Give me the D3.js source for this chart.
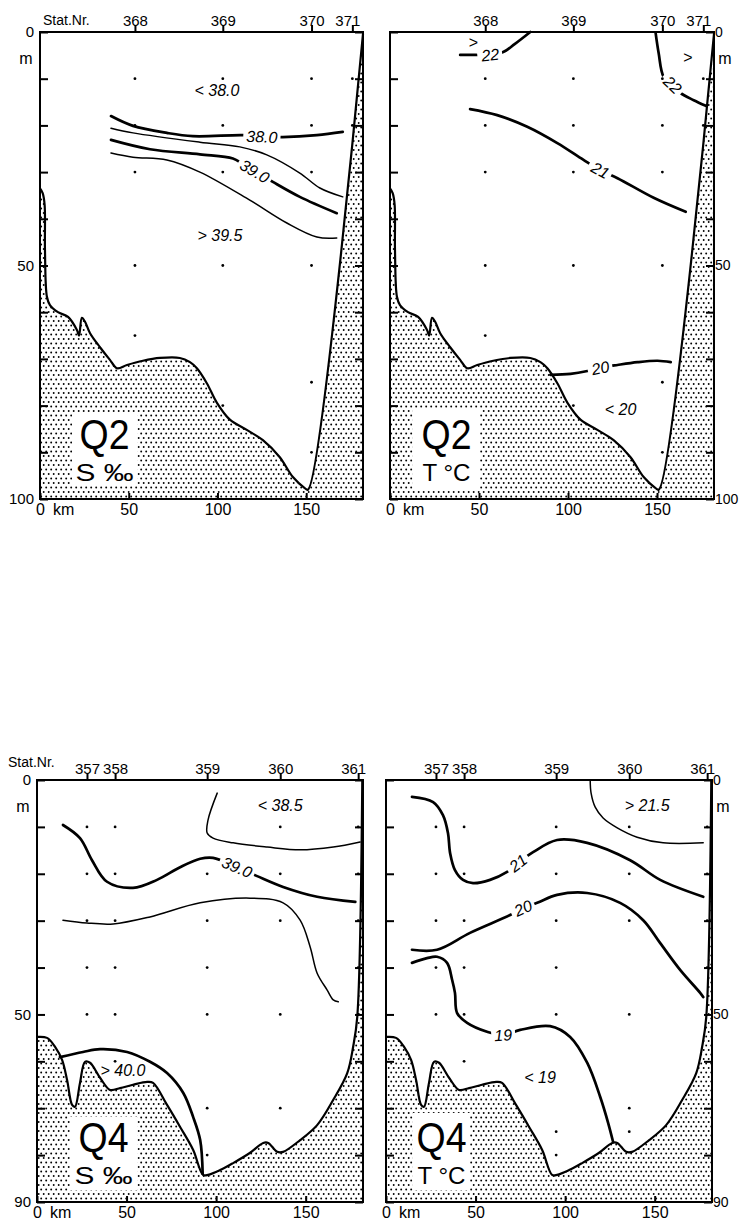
<!DOCTYPE html>
<html>
<head>
<meta charset="utf-8">
<script src="https://cdn.jsdelivr.net/npm/d3@7"></script>
<style>
body { margin: 0; background: #fff; }
svg { display: block; font-family: "Liberation Sans", Arial, sans-serif; }
</style>
</head>
<body>
<div id="app"></div>
<script>
// Stations along the section (km from start)
let stationsQ2 = ["368", "369", "370", "371"]
let stationKmQ2 = [53.5, 103, 153, 176]
let stationsQ4 = ["357", "358", "359", "360", "361"]
let stationKmQ4 = [27.9, 43.6, 95, 135.8, 179.3]

let kmTicks = [0, 50, 100, 150]

// sample depths [station, depth m]
let samplesQ2 = [
  ["368", 10], ["368", 20], ["368", 30], ["368", 50], ["368", 65],
  ["369", 10], ["369", 20], ["369", 30], ["369", 50], ["369", 80],
  ["370", 10], ["370", 20], ["370", 30], ["370", 50], ["370", 75], ["370", 90],
  ["371", 10], ["371", 20]
]
let samplesQ4S = [
  ["357", 10], ["357", 20], ["357", 30], ["357", 40], ["357", 50],
  ["358", 10], ["358", 20], ["358", 30], ["358", 40], ["358", 50], ["358", 60],
  ["359", 20], ["359", 30], ["359", 40], ["359", 50], ["359", 70], ["359", 80],
  ["360", 10], ["360", 20], ["360", 30], ["360", 50], ["360", 70],
  ["361", 10], ["361", 20], ["361", 30], ["361", 40], ["361", 50]
]
let samplesQ4T = [
  ["357", 10], ["357", 20], ["357", 30], ["357", 40], ["357", 50],
  ["358", 10], ["358", 20], ["358", 30], ["358", 40], ["358", 50], ["358", 60],
  ["359", 10], ["359", 20], ["359", 30], ["359", 40], ["359", 50], ["359", 75], ["359", 80],
  ["360", 10], ["360", 20], ["360", 30], ["360", 50], ["360", 70], ["360", 75],
  ["361", 10], ["361", 20], ["361", 30], ["361", 40]
]

// sea floor profiles [km, depth m]
let bottomQ2 = [
  [0, 33.5], [1.5, 34.5], [2.6, 37], [2.8, 46.7], [3.9, 56.7], [5.6, 58.5], [10.1, 60],
  [15.8, 61], [20.8, 63.8], [22, 65], [23.6, 61.2], [25.3, 62], [28.2, 64.5],
  [33.8, 67.5], [39.4, 70.2], [43.4, 72], [49, 71.3], [58, 70.4], [67.6, 69.8],
  [78.8, 69.8], [84.5, 70.7], [88.4, 72], [94, 75.2], [99.7, 79.4], [107, 83],
  [116.5, 85.2], [125.6, 87.4], [135, 91], [142.5, 95.3], [149, 97.6], [151, 98],
  [182, 0.4]
]
let bottomQ4 = [
  [0, 54.8], [5.6, 55], [10.1, 56.9], [14, 59.7], [16.8, 64], [19.6, 69.3], [21.2, 69.7],
  [24, 64.6], [26.8, 60.1], [29.6, 60.3], [35.2, 63.5], [40.8, 66.1], [46.4, 65.7],
  [53.6, 65], [61.5, 64.4], [64.8, 64.6], [72.6, 69.3], [79.9, 74], [87.2, 78.9],
  [92.7, 84.2], [95.5, 84.2], [102.2, 83.2], [109.5, 81.7], [119, 79.5], [126.3, 77.4],
  [129.1, 77.4], [134.1, 79.3], [137.4, 79.3], [146.9, 76.8], [156.4, 73.6],
  [165.4, 68.2], [173.2, 62.5], [176.5, 56.9], [178.8, 50.5], [181.6, 0]
]

// isolines: level, index of the point carrying the label, points [km, depth m]
let contoursQ2S = [
  {level: 38.0, labelAt: 5, points: [[40, 18], [52.4, 20.1], [71.5, 21.6], [86.1, 22.3], [114.3, 22.1], [125, 22.4], [136.8, 22.5], [156, 22.1], [170.6, 21.4]]},
  {level: 38.5, points: [[40, 20.6], [52.4, 21.6], [90.1, 23.6], [112.6, 24.6], [127.8, 26.3], [146.4, 30.2], [157.7, 33.4], [170.6, 35.3]]},
  {level: 39.0, labelAt: 5, points: [[40, 23.1], [62, 25.1], [90.1, 26.2], [108.7, 27.1], [114, 28.2], [121, 29.8], [131.2, 32.1], [146.4, 35.3], [167.2, 38.8]]},
  {level: 39.5, points: [[40, 25.9], [52.4, 26.8], [71.5, 27.4], [90.1, 30], [118.2, 36], [139.1, 40.9], [156, 43.9], [167.2, 44.1]]}
]
let contoursQ2T = [
  {level: 22, labelAt: 2, points: [[39.4, 4.9], [47.9, 4.9], [56.3, 4.9], [63.6, 4.3], [70, 2.6], [78.8, 0]]},
  {level: 22, labelAt: 3, points: [[149.2, 0.2], [150.9, 4.5], [153.7, 9.6], [158.8, 11.3], [163.3, 13.1], [170.6, 14.6], [177.4, 15.8]]},
  {level: 21, labelAt: 5, points: [[45, 16.5], [60.2, 17.8], [77.1, 20.3], [94, 23.8], [108.7, 27.4], [118.2, 29.6], [127.8, 31.3], [148.1, 35.5], [166.1, 38.5]]},
  {level: 20, labelAt: 3, points: [[90.1, 73.4], [101.4, 73.2], [110.9, 72.6], [118.2, 71.9], [127.8, 71.3], [139.1, 70.7], [150.3, 70.4], [157.7, 70.7]]}
]
let contoursQ4S = [
  {level: 38.5, points: [[100.6, 2.8], [95.5, 8.5], [95, 11.3], [98.3, 12.4], [109.5, 13.4], [128.5, 14.3], [146.9, 14.9], [165.4, 14.3], [180.4, 13.2]]},
  {level: 39.0, labelAt: 9, points: [[14.5, 9.6], [24, 12.4], [30.7, 17.1], [39.1, 21.7], [53.6, 23], [67, 21.3], [79.9, 18.6], [91.1, 16.8], [98.3, 16.6], [111.7, 18.6], [122.9, 20.5], [137.4, 22.8], [156.4, 24.9], [177.7, 26]]},
  {level: 39.5, points: [[14.5, 29.9], [27.9, 30.5], [42.5, 30.7], [63.1, 29.2], [91.1, 26.2], [119, 25.2], [137.4, 26.2], [146.9, 29.9], [152.5, 35.6], [156.4, 41.2], [162, 44.8], [165.4, 46.9], [168.2, 47.3]]},
  {level: 40.0, points: [[12.8, 59.1], [25.7, 58], [35.2, 57.4], [50.3, 58], [63.1, 60.1], [72.6, 62.5], [81.6, 66.7], [87.2, 71.9], [91.1, 76.8], [92.5, 84]]}
]
let contoursQ4T = [
  {level: 21.5, points: [[114, 0], [114.5, 2.8], [116.8, 5.8], [121.2, 8.1], [129.1, 10.2], [140.2, 12.2], [154.7, 13.4], [177.1, 13.4]]},
  {level: 21, labelAt: 10, points: [[14.5, 3.6], [26.3, 4.7], [31.8, 7.5], [34.6, 11.3], [35.8, 15.6], [38.5, 19.2], [43, 21.3], [48.6, 22], [58.1, 21.3], [67.6, 19.6], [73.7, 17.7], [82.1, 15.4], [95.5, 12.8], [112.3, 13.4], [136.3, 17.1], [153.1, 21.3], [177.1, 24.9]]},
  {level: 20, labelAt: 4, points: [[14.5, 36.2], [28.5, 36.2], [46.9, 32.6], [69.3, 28.8], [76.5, 27.3], [84.4, 26.2], [95.5, 24.5], [112.3, 24.1], [130.7, 26.2], [143.6, 29.9], [153.1, 34.8], [164.2, 40.5], [175.4, 45.4], [177.1, 46.3]]},
  {level: 19, labelAt: 9, points: [[14.5, 39], [22.9, 38], [28.5, 37.7], [34.1, 39], [36.9, 42.6], [38.5, 45.4], [39.7, 49.7], [45.3, 51.8], [56.4, 53.7], [65.4, 54.4], [74.9, 53.3], [91.6, 52.5], [102.8, 54.8], [112.3, 60.3], [119.6, 67.6], [124, 73.1], [126.8, 77.2]]}
]

// free text in the sections [text, km, depth m]
let notesQ2S = [["< 38.0", 99.7, 12.4], ["> 39.5", 101.4, 43.5]]
let notesQ2T = [[">", 46.7, 2.1], [">", 167.2, 5.4], ["< 20", 129.5, 80.7]]
let notesQ4S = [["< 38.5", 135.8, 5.3], ["> 40.0", 48, 61.8]]
let notesQ4T = [["> 21.5", 145.8, 5.3], ["< 19", 86, 63.3]]

let svg = d3.select("#app").append("svg")
    .attr("width", 739)
    .attr("height", 1225)

// stipple for the sea floor
let pat = svg.append("defs").append("pattern")
    .attr("id", "stipple")
    .attr("width", 5)
    .attr("height", 9)
    .attr("patternUnits", "userSpaceOnUse")
pat.append("rect").attr("width", 5).attr("height", 9).attr("fill", "#fff")
pat.append("circle").attr("cx", 1.2).attr("cy", 1.5).attr("r", 0.95).attr("fill", "#000")
pat.append("circle").attr("cx", 3.7).attr("cy", 6).attr("r", 0.95).attr("fill", "#000")

let panels = [
  {cruise: "Q2", param: "S ‰", fmt: d3.format(".1f"), x0: 40, x1: 363, y0: 32, y1: 499, maxDepth: 100, side: "left",
   stat: [43, 25], stations: stationsQ2, stationKm: stationKmQ2, bottom: bottomQ2,
   contours: contoursQ2S, notes: notesQ2S, samples: samplesQ2, box: [32, -86, 65, 72]},
  {cruise: "Q2", param: "T °C", fmt: d3.format("d"), x0: 390, x1: 714, y0: 32, y1: 499, maxDepth: 100, side: "right",
   stat: null, stations: stationsQ2, stationKm: stationKmQ2, bottom: bottomQ2,
   contours: contoursQ2T, notes: notesQ2T, samples: samplesQ2, box: [23, -89, 67, 80]},
  {cruise: "Q4", param: "S ‰", fmt: d3.format(".1f"), x0: 37, x1: 363, y0: 780, y1: 1202, maxDepth: 90, side: "left",
   stat: [8, 767], stations: stationsQ4, stationKm: stationKmQ4, bottom: bottomQ4,
   contours: contoursQ4S, notes: notesQ4S, samples: samplesQ4S, box: [33, -85, 67, 73]},
  {cruise: "Q4", param: "T °C", fmt: d3.format("d"), x0: 386, x1: 712, y0: 780, y1: 1202, maxDepth: 90, side: "right",
   stat: null, stations: stationsQ4, stationKm: stationKmQ4, bottom: bottomQ4,
   contours: contoursQ4T, notes: notesQ4T, samples: samplesQ4T, box: [27, -89, 57, 77]}
]

panels.forEach(drawPanel)

function drawPanel(p) {
    let x = d3.scaleLinear().domain([0, 182]).range([p.x0, p.x1])
    let y = d3.scaleLinear().domain([0, p.maxDepth]).range([p.y0, p.y1])
    let curve = d3.line()
        .x(d => x(d[0]))
        .y(d => y(d[1]))
        .curve(d3.curveCatmullRom.alpha(0.5))
    let g = svg.append("g")

    // sea floor
    g.append("path")
        .attr("d", curve(p.bottom) + `L${x(182)},${y(0)}L${x(182)},${y(p.maxDepth)}L${x(0)},${y(p.maxDepth)}Z`)
        .attr("fill", "url(#stipple)")
    g.append("path")
        .attr("d", curve(p.bottom))
        .attr("fill", "none")
        .attr("stroke", "#000")
        .attr("stroke-width", 2.2)

    // white label box
    let bx = p.x0 + p.box[0], by = p.y1 + p.box[1]
    g.append("rect")
        .attr("x", bx).attr("y", by)
        .attr("width", p.box[2]).attr("height", p.box[3])
        .attr("fill", "#fff")
    g.append("text")
        .attr("x", bx + p.box[2] / 2).attr("y", p.y1 - 50)
        .attr("text-anchor", "middle")
        .attr("font-size", 43)
        .attr("textLength", 50).attr("lengthAdjust", "spacingAndGlyphs")
        .text(p.cruise)
    g.append("text")
        .attr("x", bx + p.box[2] / 2).attr("y", p.y1 - 18)
        .attr("text-anchor", "middle")
        .attr("font-size", 24)
        .attr("textLength", p.param[0] === "S" ? 58 : 48).attr("lengthAdjust", "spacingAndGlyphs")
        .text(p.param)

    // isolines
    g.selectAll(".iso")
        .data(p.contours)
        .enter().append("path")
        .attr("class", "iso")
        .attr("d", c => curve(c.points))
        .attr("fill", "none")
        .attr("stroke", "#000")
        .attr("stroke-linecap", "round")
        .attr("stroke-width", c => Number.isInteger(c.level) ? 2.7 : 1.5)

    p.contours.filter(c => c.labelAt != null).forEach(c => {
        let a = c.points[c.labelAt - 1], b = c.points[c.labelAt + 1], m = c.points[c.labelAt]
        let ang = Math.atan2(y(b[1]) - y(a[1]), x(b[0]) - x(a[0])) * 180 / Math.PI
        let lg = g.append("g").attr("transform", `translate(${x(m[0])},${y(m[1])}) rotate(${ang})`)
        let t = lg.append("text")
            .attr("text-anchor", "middle")
            .attr("dy", "0.36em")
            .attr("font-size", 16)
            .attr("font-style", "italic")
            .text(p.fmt(c.level))
        let bb = t.node().getBBox()
        lg.insert("rect", "text")
            .attr("x", bb.x - 3).attr("y", bb.y + 1)
            .attr("width", bb.width + 6).attr("height", bb.height - 2)
            .attr("fill", "#fff")
    })

    g.selectAll(".note")
        .data(p.notes)
        .enter().append("text")
        .attr("class", "note")
        .attr("x", d => x(d[1]))
        .attr("y", d => y(d[2]))
        .attr("dy", "0.36em")
        .attr("text-anchor", "middle")
        .attr("font-size", 16)
        .attr("font-style", "italic")
        .text(d => d[0])

    // sample points
    let km = d3.scaleOrdinal().domain(p.stations).range(p.stationKm)
    g.selectAll(".dot")
        .data(p.samples)
        .enter().append("circle")
        .attr("class", "dot")
        .attr("cx", d => x(km(d[0])))
        .attr("cy", d => y(d[1]))
        .attr("r", 1.4)
        .attr("fill", "#000")

    // frame
    g.append("rect")
        .attr("x", p.x0).attr("y", p.y0)
        .attr("width", p.x1 - p.x0).attr("height", p.y1 - p.y0)
        .attr("fill", "none")
        .attr("stroke", "#000")
        .attr("stroke-width", 2)

    // depth axes
    let depthTicks = d3.range(0, p.maxDepth + 1, 10)
    let left = p.side === "left"
    let outer = (left ? d3.axisLeft(y) : d3.axisRight(y))
        .tickValues(depthTicks)
        .tickSize(-8)
        .tickPadding(left ? 6 : 1)
        .tickFormat(d => (d === 0 || d === 50 || d === p.maxDepth) ? d : "")
    let inner = (left ? d3.axisRight(y) : d3.axisLeft(y))
        .tickValues(depthTicks)
        .tickSize(-8)
        .tickFormat("")
    styleAxis(g.append("g").attr("transform", `translate(${left ? p.x0 : p.x1},0)`).call(outer), left ? 15 : 14)
    styleAxis(g.append("g").attr("transform", `translate(${left ? p.x1 : p.x0},0)`).call(inner), 14)
    g.append("text")
        .attr("x", left ? p.x0 - 14 : p.x1 + 11)
        .attr("y", y(6.8))
        .attr("text-anchor", "middle")
        .attr("font-size", 16)
        .text("m")

    // km axis
    let kmAxis = d3.axisBottom(x).tickValues(kmTicks).tickSize(-6).tickPadding(5)
    styleAxis(g.append("g").attr("transform", `translate(0,${p.y1})`).call(kmAxis), 16)
    g.append("text")
        .attr("x", x(0) + 13)
        .attr("y", p.y1 + 5)
        .attr("dy", "0.71em")
        .attr("font-size", 16)
        .text("km")

    // station axis
    let stAxis = d3.axisTop(x)
        .tickValues(p.stationKm)
        .tickFormat((d, i) => p.stations[i])
        .tickSize(7)
        .tickPadding(-1)
    let st = g.append("g").attr("transform", `translate(0,${p.y0})`).call(stAxis)
    styleAxis(st, 15)
    st.selectAll("text").filter((d, i) => i === p.stations.length - 1).attr("dx", -5)
    if (p.stat) {
        g.append("text")
            .attr("x", p.stat[0]).attr("y", p.stat[1])
            .attr("font-size", 14)
            .text("Stat.Nr.")
    }
}

function styleAxis(ax, size) {
    ax.select(".domain").remove()
    ax.attr("font-family", null).attr("font-size", size)
    ax.selectAll("line").attr("stroke", "#000").attr("stroke-width", 2)
    ax.selectAll("text").attr("fill", "#000")
}
</script>
</body>
</html>
